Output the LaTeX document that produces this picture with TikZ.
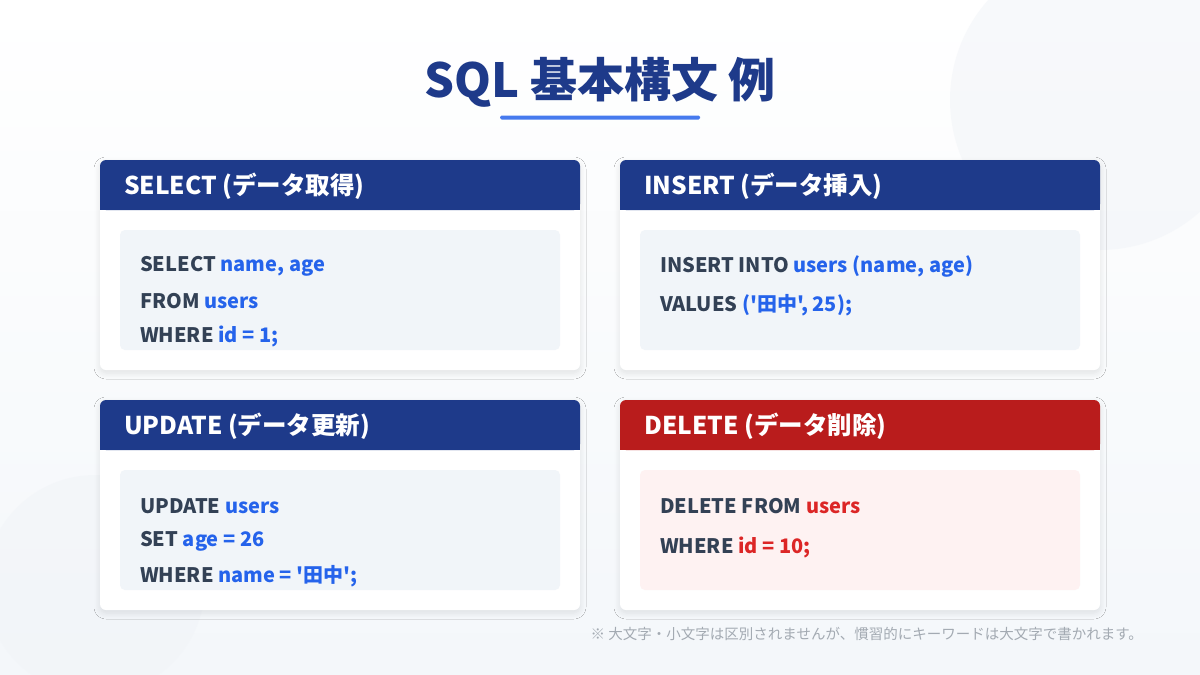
\documentclass[tikz,border=0pt]{standalone}
\usepackage{fontspec}
\setmainfont{Noto Sans CJK JP}[Ligatures=TeXOff]
\usetikzlibrary{shadows.blur}
\definecolor{navy}{HTML}{1E3A8A}
\definecolor{dred}{HTML}{B91C1C}
\definecolor{kw}{HTML}{334155}
\definecolor{val}{HTML}{2563EB}
\definecolor{rv}{HTML}{DC2626}
\definecolor{codebg}{HTML}{F1F5F9}
\definecolor{redbg}{HTML}{FEF2F2}
\tikzset{
  card/.style={fill=white,rounded corners=6pt,blur shadow={shadow blur steps=8,shadow xshift=0pt,shadow yshift=-3pt,shadow opacity=10,shadow blur radius=6pt}},
  codetxt/.style={anchor=west,inner sep=0pt,text=kw,font=\fontsize{20}{24}\selectfont\bfseries},
  headtxt/.style={anchor=west,inner sep=0pt,text=white,font=\fontsize{24.5}{28}\selectfont\bfseries},
}
\begin{document}
\begin{tikzpicture}[x=1pt,y=-1pt]
\useasboundingbox (0,0) rectangle (1200,675);
\shade[top color=white,bottom color=codebg!80] (0,0) rectangle (1200,675);
\begin{scope}
\clip (0,0) rectangle (1200,675);
\fill[color=codebg!90!navy!40,opacity=0.5] (1100,100) circle (150);
\fill[color=codebg!90!navy!40,opacity=0.5] (95,585) circle (110);
\end{scope}
\node[font=\fontsize{47}{54}\selectfont\bfseries,text=navy] (title) at (600,82) {SQL 基本構文 例};
\fill[color=val!85!white,rounded corners=1.5pt] (500,115.5) rectangle (700,119.5);
\foreach \x/\y/\hc/\cb [count=\i] in {100/160/navy/codebg,620/160/navy/codebg,100/400/navy/codebg,620/400/dred/redbg}{
  \path[card] (\x,\y) rectangle ++(480,210);
  \fill[\hc,rounded corners=6pt] (\x,\y) rectangle ++(480,50);
  \fill[\hc] (\x,\y+40) rectangle ++(480,10);
  \fill[\cb,rounded corners=5pt] (\x+20,\y+70) rectangle ++(440,120);
}
\node[headtxt] (h1) at (124,186) {SELECT (データ取得)};
\node[headtxt] (h2) at (644,186) {INSERT (データ挿入)};
\node[headtxt] (h3) at (124,426) {UPDATE (データ更新)};
\node[headtxt] (h4) at (644,426) {DELETE (データ削除)};
\node[codetxt] (s1) at (140,266) {SELECT \textcolor{val}{name, age}};
\node[codetxt] (s2) at (140,301) {FROM \textcolor{val}{users}};
\node[codetxt] (s3) at (140,336) {WHERE \textcolor{val}{id = 1;}};
\node[codetxt] (i1) at (660,266) {INSERT INTO \textcolor{val}{users (name, age)}};
\node[codetxt] (i2) at (660,305) {VALUES \textcolor{val}{('田中', 25);}};
\node[codetxt] (u1) at (140,506) {UPDATE \textcolor{val}{users}};
\node[codetxt] (u2) at (140,541) {SET \textcolor{val}{age = 26}};
\node[codetxt] (u3) at (140,576) {WHERE \textcolor{val}{name = '田中';}};
\node[codetxt] (d1) at (660,506) {DELETE FROM \textcolor{rv}{users}};
\node[codetxt] (d2) at (660,547) {WHERE \textcolor{rv}{id = 10;}};
\node[anchor=east,inner sep=0pt,text=kw!45,font=\fontsize{14.5}{17}\selectfont] (note) at (1143,634) {※ 大文字・小文字は区別されませんが、慣習的にキーワードは大文字で書かれます。};
\end{tikzpicture}
\end{document}
